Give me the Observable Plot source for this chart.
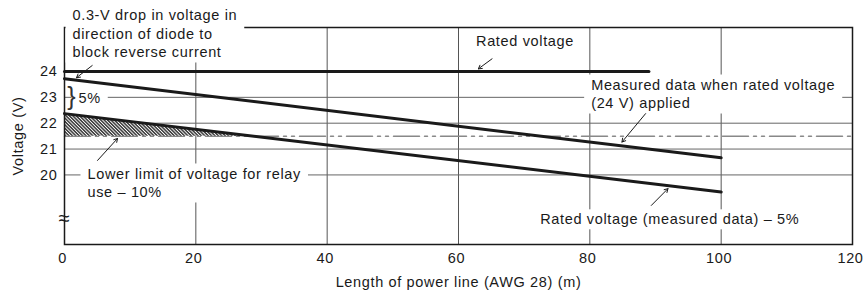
<!DOCTYPE html>
<html><head><meta charset="utf-8">
<script src="https://cdn.jsdelivr.net/npm/d3@7"></script>
<script src="https://cdn.jsdelivr.net/npm/@observablehq/plot@0.6"></script>
<style>body{margin:0;background:#fff}</style>
</head><body>
<svg width="0" height="0" style="position:absolute"><defs>
<pattern id="hatch" width="2.4" height="2.4" patternUnits="userSpaceOnUse" patternTransform="rotate(-45)">
<rect width="2.4" height="2.4" fill="#fff"/><line x1="0.8" y1="0" x2="0.8" y2="2.4" stroke="#2a2a2a" stroke-width="1.4"/></pattern>
</defs></svg>
<div id="chart"></div>
<script>
// ---- data ----
const lengths = [0, 100];                 // m
const measured = [23.72, 20.66];          // measured when 24 V applied
const measuredMinus5 = [22.37, 19.34];    // rated voltage (measured data) - 5%
const ratedX = [0, 89];
const rated = [24, 24];
const limitX = [0, 120];
const lowerLimit = [21.5, 21.5];          // lower limit for relay use (-10%)
const hatchX = [0, 28.7];
const hatchTop = [22.37, 21.5];
const xTicks = [0, 20, 40, 60, 80, 100, 120];
const yTicks = [20, 21, 22, 23, 24];
const gridX = [20, 40, 60, 80, 100];
const gridY = [20, 21, 22, 23];
const xLabel = "Length of power line (AWG 28) (m)";
const yLabel = "Voltage (V)";

const annTexts = [
  "0.3-V drop in voltage in\ndirection of diode to\nblock reverse current",
  "5%",
  "Lower limit of voltage for relay\nuse – 10%",
  "Rated voltage",
  "Measured data when rated voltage\n(24 V) applied"
];
const annX = [1.22, 2.13, 3.5, 62.67, 80.2];
const annY = [25.51, 23.0, 19.73, 25.23, 23.17];
const endText = ["Rated voltage (measured data) – 5%"];
const endX = [111.9];
const endY = [18.27];

const arrX1 = [4.22, 5.03, 65.11, 88.49, 89.36];
const arrY1 = [24.23, 20.56, 24.49, 22.37, 18.82];
const arrX2 = [1.83, 8.08, 63.02, 84.89, 91.90];
const arrY2 = [23.76, 21.41, 24.10, 21.27, 19.47];

const yMin = 17.31, yMax = 25.70;

const series = (xs, ys) => xs.map((x, i) => ({x, y: ys[i]}));
const annotations = annTexts.map((t, i) => ({text: t, x: annX[i], y: annY[i]}));
const endAnn = endText.map((t, i) => ({text: t, x: endX[i], y: endY[i]}));
const arrows = arrX1.map((x1, i) => ({x1, y1: arrY1[i], x2: arrX2[i], y2: arrY2[i]}));
const hatch = hatchX.map((x, i) => ({x, y1: lowerLimit[0], y2: hatchTop[i]}));

const chart = Plot.plot({
  width: 863, height: 296,
  marginLeft: 64, marginRight: 11, marginTop: 27, marginBottom: 52,
  style: {fontFamily: '"Liberation Sans", Arial, sans-serif', fontSize: "14.5px", letterSpacing: "0.65px", color: "#1a1a1a", background: "#fff"},
  x: {domain: [0, 120]},
  y: {domain: [yMin, yMax]},
  marks: [
    Plot.ruleX(gridX, {stroke: "#555", strokeWidth: 1}),
    Plot.ruleY(gridY, {stroke: "#666", strokeWidth: 1}),
    Plot.line(series(limitX, lowerLimit), {x: "x", y: "y", stroke: "#888", strokeWidth: 1.5, strokeDasharray: "26,5,3,5,3,5"}),
    Plot.areaY(hatch, {x: "x", y1: "y1", y2: "y2", fill: "url(#hatch)"}),
    Plot.frame({stroke: "#1a1a1a", strokeWidth: 1.5}),
    Plot.line(series(ratedX, rated), {x: "x", y: "y", stroke: "#1a1a1a", strokeWidth: 3}),
    Plot.line(series(lengths, measured), {x: "x", y: "y", stroke: "#1a1a1a", strokeWidth: 3}),
    Plot.line(series(lengths, measuredMinus5), {x: "x", y: "y", stroke: "#1a1a1a", strokeWidth: 3}),
    Plot.axisX({ticks: xTicks, tickSize: 0, tickPadding: 8, dx: -2, label: null}),
    Plot.text([xLabel], {frameAnchor: "bottom", dy: 38, lineAnchor: "middle", text: d => d}),
    Plot.axisY({ticks: yTicks, tickSize: 0, tickPadding: 7, label: yLabel, labelAnchor: "center", labelOffset: 52, labelArrow: false}),
    Plot.text([{x: 0, y: 18.32}], {x: "x", y: "y", text: () => "≈", fontSize: 20, fill: "#1a1a1a"}),
    Plot.text(annotations, {x: "x", y: "y", text: "text", textAnchor: "start", lineAnchor: "middle", lineHeight: 1.31, fill: "#1a1a1a"}),
    Plot.text(endAnn, {x: "x", y: "y", text: "text", textAnchor: "end", lineAnchor: "middle", fill: "#1a1a1a"}),
    Plot.text([{x: 1.1, y: 23.03}], {x: "x", y: "y", text: () => "}", fontSize: 25, fill: "#333"}),
    Plot.arrow(arrows, {x1: "x1", y1: "y1", x2: "x2", y2: "y2", stroke: "#1a1a1a", strokeWidth: 1, headLength: 6, insetStart: 0, insetEnd: 0})
  ]
});
document.getElementById("chart").appendChild(chart);

// white boxes behind annotation texts
const boxed = new Set([...annTexts, ...endText].map(t => t.replace(/\n/g, "")));
d3.select(chart).selectAll('g[aria-label="text"] text').each(function() {
  if (!boxed.has(this.textContent)) return;
  const b = this.getBBox();
  const padX = 7, padY = 2;
  d3.select(this.parentNode).insert("rect", () => this)
    .attr("x", b.x - padX).attr("y", b.y - padY)
    .attr("width", b.width + 2 * padX).attr("height", b.height + 2 * padY)
    .attr("fill", "#fff")
    .attr("transform", this.getAttribute("transform"));
});
</script>
</body></html>
